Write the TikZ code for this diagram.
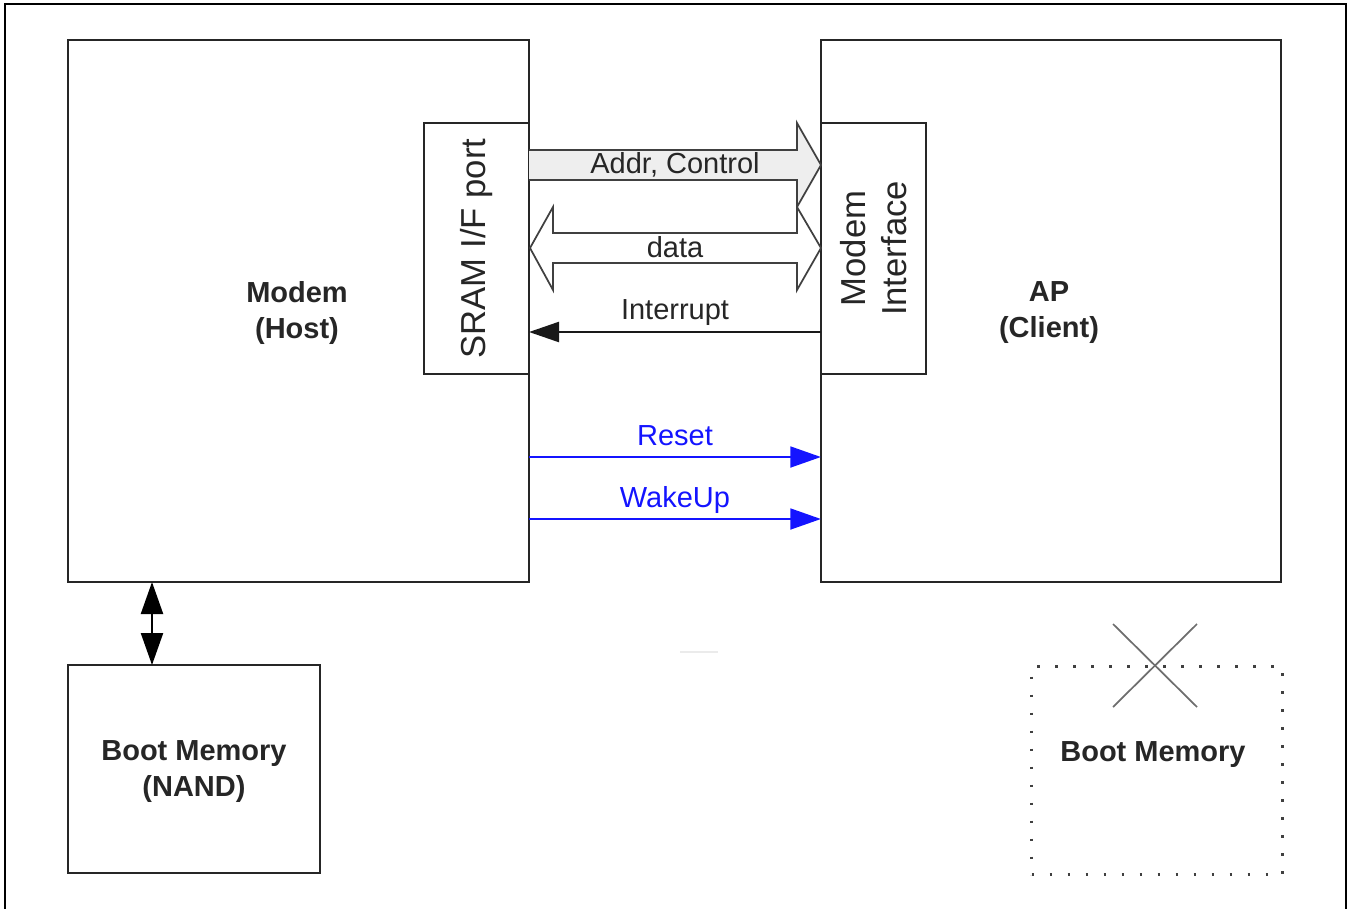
\documentclass[tikz,border=0pt]{standalone}
\usepackage{fontspec}
\setmainfont{Liberation Sans}
\usetikzlibrary{calc,arrows.meta}
\definecolor{sigblue}{RGB}{20,20,255}
\definecolor{fatgray}{RGB}{238,238,238}
\definecolor{xgray}{RGB}{110,110,110}
\tikzset{
  blk/.style={draw=black!85, line width=1.6pt, anchor=north west, inner sep=0pt, outer sep=0pt},
  lbl/.style={font=\fontsize{21.75}{27}\selectfont, text=black!85, inner sep=0pt},
  blbl/.style={font=\fontsize{21.75}{27}\selectfont\bfseries, text=black!85, align=center, inner sep=0pt},
  rlbl/.style={font=\fontsize{26}{31}\selectfont, text=black!85, align=center, rotate=90, inner sep=0pt},
  fat/.style={draw=black!75, line width=1.3pt, line join=miter},
  sig/.style={line width=2.2pt, -{Triangle[length=23pt,width=15.5pt]}},
}
\begin{document}
\begin{tikzpicture}[x=0.75pt,y=-0.75pt]
\useasboundingbox (0,0) rectangle (1354,908);
% outer frame
\coordinate (fbl) at (5,910);
\coordinate (ftl) at (5,4);
\coordinate (ftr) at (1346,4);
\coordinate (fbr) at (1346,910);
\draw[line width=2pt] (fbl) -- (ftl) -- (ftr) -- (fbr);

% main blocks
\node[blk, minimum width=345.75pt, minimum height=406.5pt] (modem) at (68,40) {};
\node[blk, minimum width=345pt, minimum height=406.5pt] (ap) at (821,40) {};
\node[blk, fill=white, minimum width=78.75pt, minimum height=188.25pt] (sram) at (424,123) {};
\node[blk, fill=white, minimum width=78.75pt, minimum height=188.25pt] (mif) at (821,123) {};
\node[blk, minimum width=189pt, minimum height=156pt] (nand) at (68,665) {};
\node[draw=black!75, line width=2.6pt, dash pattern=on 1.8pt off 11.7pt, anchor=north west, inner sep=0pt, minimum width=188.25pt, minimum height=156pt] (boot) at (1030,665) {};

% texts
\node[blbl] (modemtxt) at (297,313) {Modem\\(Host)};
\node[blbl] (aptxt) at (1049,313) {AP\\(Client)};
\node[rlbl] (sramtxt) at (sram.center) {SRAM I/F port};
\node[rlbl] (miftxt) at (mif.center) {Modem\\Interface};
\node[blbl] (nandtxt) at ($(nand.center)+(0,3)$) {Boot Memory\\(NAND)};
\node[blbl] (boottxt) at (1153,755) {Boot Memory};

% Addr, Control fat arrow
\coordinate (a0) at ($(sram.north east)+(0,27)$);
\draw[fat, fill=fatgray]
  (a0) -- ($(mif.north west)+(-24,27)$) -- ($(mif.north west)+(-24,0)$)
  -- ($(mif.north west)+(0,42)$) -- ($(mif.north west)+(-24,84)$)
  -- ($(mif.north west)+(-24,57)$) -- ($(sram.north east)+(0,57)$);
\node[lbl] (addr) at ($(sram.north east)!0.5!(mif.north west)+(0,42)$) {Addr, Control};

% data double fat arrow
\draw[fat, fill=white]
  ($(sram.north east)+(1,125)$) -- ($(sram.north east)+(24,84)$) -- ($(sram.north east)+(24,110)$)
  -- ($(mif.north west)+(-24,110)$) -- ($(mif.north west)+(-24,84)$)
  -- ($(mif.north west)+(0,125)$) -- ($(mif.north west)+(-24,167)$)
  -- ($(mif.north west)+(-24,140)$) -- ($(sram.north east)+(24,140)$)
  -- ($(sram.north east)+(24,167)$) -- cycle;
\node[lbl] (data) at ($(sram.north east)!0.5!(mif.north west)+(0,124)$) {data};

% Interrupt
\draw[line width=1.7pt, black!90, -{Triangle[length=22.5pt,width=15pt]}]
  ($(mif.north west)+(0,209)$) -- ($(sram.north east)+(0,209)$);
\node[lbl] (intr) at ($(sram.north east)!0.5!(mif.north west)+(0,190)$) {Interrupt};

% Reset / WakeUp
\draw[sig, sigblue] ($(modem.north east)+(0,417)$) -- ($(ap.north west)+(0,417)$);
\node[lbl, text=sigblue] (reset) at ($(modem.north east)!0.5!(ap.north west)+(0,396)$) {Reset};
\draw[sig, sigblue] ($(modem.north east)+(0,479)$) -- ($(ap.north west)+(0,479)$);
\node[lbl, text=sigblue] (wake) at ($(modem.north east)!0.5!(ap.north west)+(0,460)$) {WakeUp};

% modem <-> NAND
\draw[line width=1.7pt, {Triangle[length=24pt,width=16.5pt]}-{Triangle[length=24pt,width=16.5pt]}]
  (modem.south west -| 152,0) -- (nand.north west -| 152,0);

% cross over the absent boot memory
\coordinate (x1) at (1113,624);
\coordinate (x2) at (1197,707);
\coordinate (x3) at (1197,624);
\coordinate (x4) at (1113,707);
\draw[xgray, line width=1.3pt] (x1) -- (x2);
\draw[xgray, line width=1.3pt] (x3) -- (x4);

% faint stray mark
\coordinate (s1) at (680,652);
\coordinate (s2) at (718,652);
\draw[black!8, line width=1pt] (s1) -- (s2);
\end{tikzpicture}
\end{document}
